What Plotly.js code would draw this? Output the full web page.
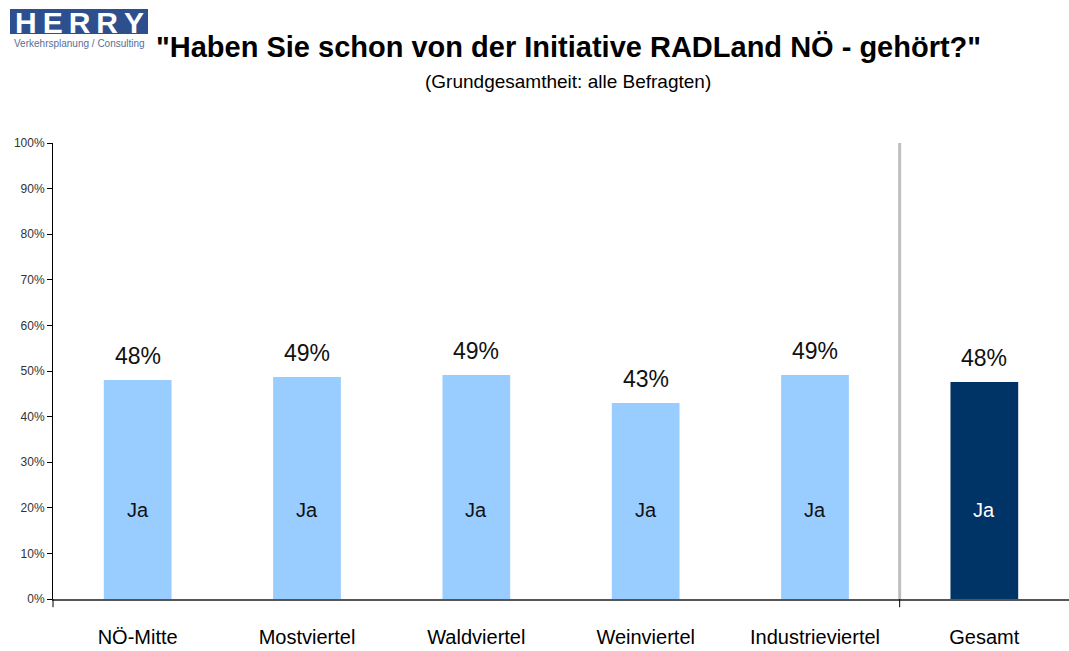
<!DOCTYPE html>
<html><head><meta charset="utf-8">
<script src="https://cdn.plot.ly/plotly-3.0.1.min.js"></script>
<style>html,body{margin:0;padding:0;background:#fff}#chart{width:1069px;height:651px}</style>
</head><body><div id="chart"></div>
<script>
const categories = ["NÖ-Mitte","Mostviertel","Waldviertel","Weinviertel","Industrieviertel","Gesamt"];
const jaValues = [48.0, 48.7, 49.1, 43.0, 49.1, 47.6];
const valueLabels = ["48%","49%","49%","43%","49%","48%"];
const barLabel = "Ja";
const yTickVals = [0,10,20,30,40,50,60,70,80,90,100];
const yTickText = ["0%","10%","20%","30%","40%","50%","60%","70%","80%","90%","100%"];

const NARROW = "Liberation Sans Narrow, Arial Narrow, Liberation Sans, Arial, sans-serif";
const regionIdx = [0,1,2,3,4];
const totalIdx = [5];

// pixel helpers for layout placement (plot area: top 143px, height 456px, left 53px, width 1016px)
const PT = 143, PH = 456, PL = 53, PW = 1016;
const py = px => 1 + (PT - px) / PH;
const pxX = px => (px - PL) / PW;

const traces = [
  {type:"bar", x: regionIdx.map(i=>categories[i]), y: regionIdx.map(i=>jaValues[i]),
   marker:{color:"#99CCFF"}, width:0.4, hoverinfo:"x+y"},
  {type:"bar", x: totalIdx.map(i=>categories[i]), y: totalIdx.map(i=>jaValues[i]),
   marker:{color:"#003366"}, width:0.4, hoverinfo:"x+y"}
];

const annotations = [];
categories.forEach((c,i)=>{
  annotations.push({x:c, y:jaValues[i], xref:"x", yref:"y", text:valueLabels[i], showarrow:false,
    yanchor:"bottom", yshift:9, font:{family:NARROW, size:23, color:"#111"}});
  annotations.push({x:c, y:19.5, xref:"x", yref:"y", text:barLabel, showarrow:false,
    font:{family:"Liberation Sans, Arial, sans-serif", size:20, color: i===5 ? "#ffffff" : "#111"}});
});
// titles
annotations.push({xref:"paper", yref:"paper", x:pxX(568), y:py(47), text:"<b>\"Haben Sie schon von der Initiative RADLand NÖ - gehört?\"</b>",
  showarrow:false, font:{family:NARROW, size:29, color:"#000"}, xanchor:"center", yanchor:"middle"});
annotations.push({xref:"paper", yref:"paper", x:pxX(568), y:py(82), text:"(Grundgesamtheit: alle Befragten)",
  showarrow:false, font:{family:NARROW, size:19, color:"#000"}, xanchor:"center", yanchor:"middle"});
// logo text
annotations.push({xref:"paper", yref:"paper", x:pxX(79), y:py(22), text:"<b>H\u2009E\u2009R\u2009R\u2009Y</b>", xanchor:"center", yanchor:"middle",
  showarrow:false, font:{family:"Liberation Sans, Arial, sans-serif", size:30, color:"#ffffff"}});
annotations.push({xref:"paper", yref:"paper", x:pxX(79), y:py(43), text:"Verkehrsplanung / Consulting", xanchor:"center", yanchor:"middle",
  showarrow:false, font:{family:NARROW, size:10, color:"#5A6E96"}});

const shapes = [
  // separator line
  {type:"line", xref:"x", yref:"paper", x0:4.5, x1:4.5, y0:0, y1:1, line:{color:"#BFBFBF", width:3}},
  // x axis ticks
  {type:"line", xref:"x", yref:"paper", x0:4.5, x1:4.5, y0:0, y1:-0.018, line:{color:"#000", width:1}},
  {type:"line", xref:"paper", yref:"paper", x0:0, x1:0, y0:0, y1:-0.018, line:{color:"#000", width:1}},
  // logo box
  {type:"rect", xref:"paper", yref:"paper", x0:pxX(10), x1:pxX(148), y0:py(34), y1:py(9), line:{width:0}, fillcolor:"#2D4F8E"}
];

const layout = {
  width:1069, height:651,
  margin:{l:PL, r:0, t:PT, b:52},
  paper_bgcolor:"#fff", plot_bgcolor:"#fff",
  showlegend:false, bargap:0.6,
  xaxis:{type:"category", range:[-0.5,5.5], showline:true, linecolor:"#555", linewidth:2,
    ticks:"", tickfont:{family:NARROW, size:20, color:"#000"}, ticklabelstandoff:19,
    showgrid:false, zeroline:false, fixedrange:true},
  yaxis:{range:[0,100], tickvals:yTickVals, ticktext:yTickText, showline:true, linecolor:"#000", linewidth:1,
    ticks:"outside", ticklen:5, tickcolor:"#000", tickfont:{family:NARROW, size:12, color:"#333"},
    showgrid:false, zeroline:false, fixedrange:true},
  annotations, shapes
};

Plotly.newPlot("chart", traces, layout, {displayModeBar:false, staticPlot:true});
</script></body></html>
